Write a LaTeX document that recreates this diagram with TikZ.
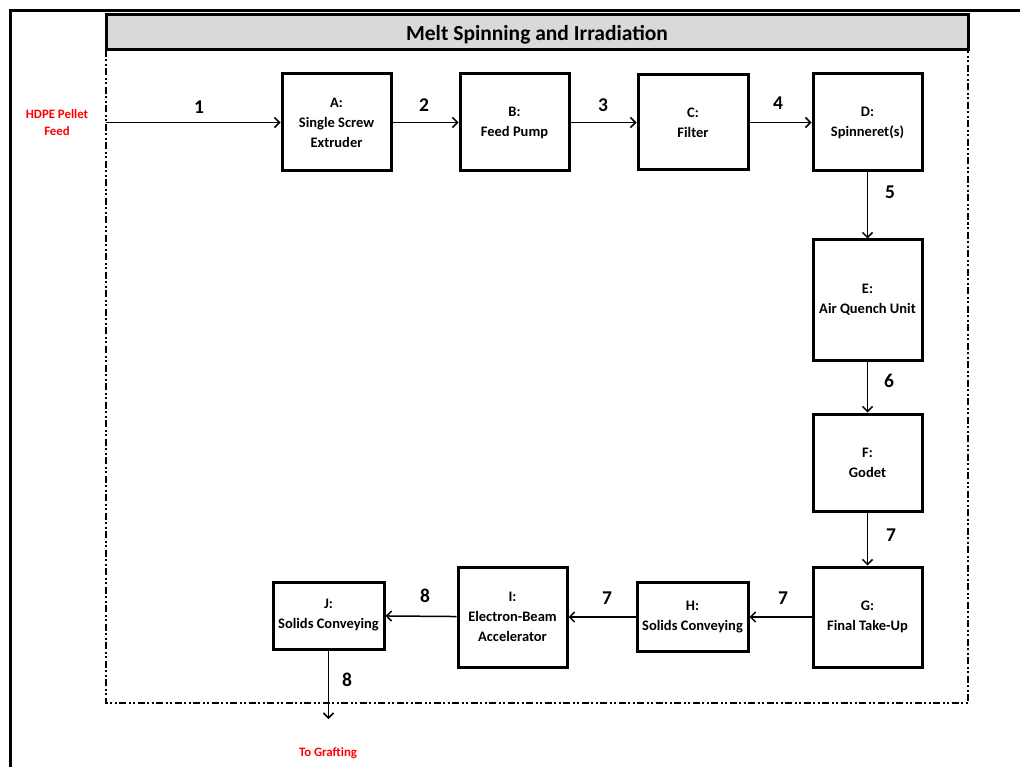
\documentclass[tikz,border=0pt]{standalone}
\usepackage{fontspec}
\setmainfont{Carlito}
\usetikzlibrary{arrows.meta}

\tikzset{
  unitbox/.style={draw, line width=3pt, fill=white, align=center,
    font=\fontsize{14.5}{20}\selectfont\bfseries, inner sep=0pt},
  flow/.style={line width=1.5pt, -{Straight Barb[length=5pt,width=10pt,line width=1.5pt]}},
  num/.style={font=\fontsize{19.5}{20}\selectfont\bfseries, inner sep=0pt},
  ext/.style={text=red, align=center, font=\fontsize{12.8}{17}\selectfont\bfseries, inner sep=0pt},
  frame/.style={line width=3pt},
  zone/.style={line width=2pt, dash pattern=on 7pt off 2.5pt on 2pt off 2.5pt on 2pt off 2.5pt},
}

\begin{document}
\begin{tikzpicture}[x=1pt, y=-1pt]
  \useasboundingbox (0,0) rectangle (1020,767);

  % outer page frame (top and left edges)
  \draw[frame] (1022,11) -- (10,11) -- (10,769);

  % process area boundary
  \draw[zone] (106,50) -- (106,703) -- (968,703) -- (968,50);

  % title bar
  \node[draw, line width=3pt, fill=black!15, minimum width=862pt, minimum height=35pt,
        inner sep=0pt] (title) at (537,32.5) {};
  \node[font=\fontsize{21.5}{24}\selectfont\bfseries, inner sep=0pt]
        (titletext) at (537,35) {Melt Spinning and Irradiation};

  % process units
  \node[unitbox, minimum width=109pt, minimum height=97pt]  (A) at (336.5,122.5) {A:\\Single Screw\\Extruder};
  \node[unitbox, minimum width=109pt, minimum height=97pt]  (B) at (514.5,122.5) {B:\\Feed Pump};
  \node[unitbox, minimum width=110pt, minimum height=95pt]  (C) at (693,122.5)   {C:\\Filter};
  \node[unitbox, minimum width=109pt, minimum height=97pt]  (D) at (867.5,122.5) {D:\\Spinneret(s)};
  \node[unitbox, minimum width=109pt, minimum height=120pt] (E) at (867.5,300)   {E:\\Air Quench Unit};
  \node[unitbox, minimum width=109pt, minimum height=97pt]  (F) at (867.5,462.5) {F:\\Godet};
  \node[unitbox, minimum width=109pt, minimum height=100pt] (G) at (867.5,617)   {G:\\Final Take-Up};
  \node[unitbox, minimum width=111pt, minimum height=69pt]  (H) at (692.5,617)   {H:\\Solids Conveying};
  \node[unitbox, minimum width=109pt, minimum height=100pt] (I) at (512.5,617)   {I:\\Electron-Beam\\Accelerator};
  \node[unitbox, minimum width=111pt, minimum height=67pt]  (J) at (328.5,615.5) {J:\\Solids Conveying};

  % feed and product
  \node[ext] (feedlbl) at (57,123) {HDPE Pellet\\Feed};
  \node[ext] (outlbl)  at (328,753) {To Grafting};
  \coordinate (feed) at (106,122.5);
  \coordinate (out)  at (328.5,719);

  % streams
  \draw[flow] (feed) -- (A.west);
  \draw[flow] (A) -- (B);
  \draw[flow] (B) -- (C);
  \draw[flow] (C) -- (D);
  \draw[flow] (D) -- (E);
  \draw[flow] (E) -- (F);
  \draw[flow] (F) -- (G);
  \draw[flow] (G) -- (H);
  \draw[flow] (H) -- (I);
  \draw[flow] (I) -- (J);
  \draw[flow] (J) -- (out);

  % stream numbers
  \node[num] (s1)  at (199,107) {1};
  \node[num] (s2)  at (424,105) {2};
  \node[num] (s3)  at (603,105) {3};
  \node[num] (s4)  at (778,103) {4};
  \node[num] (s5)  at (890,192) {5};
  \node[num] (s6)  at (889,381) {6};
  \node[num] (s7a) at (891,535) {7};
  \node[num] (s7b) at (783,598) {7};
  \node[num] (s7c) at (607,598) {7};
  \node[num] (s8a) at (425,596) {8};
  \node[num] (s8b) at (347,680) {8};
\end{tikzpicture}
\end{document}
